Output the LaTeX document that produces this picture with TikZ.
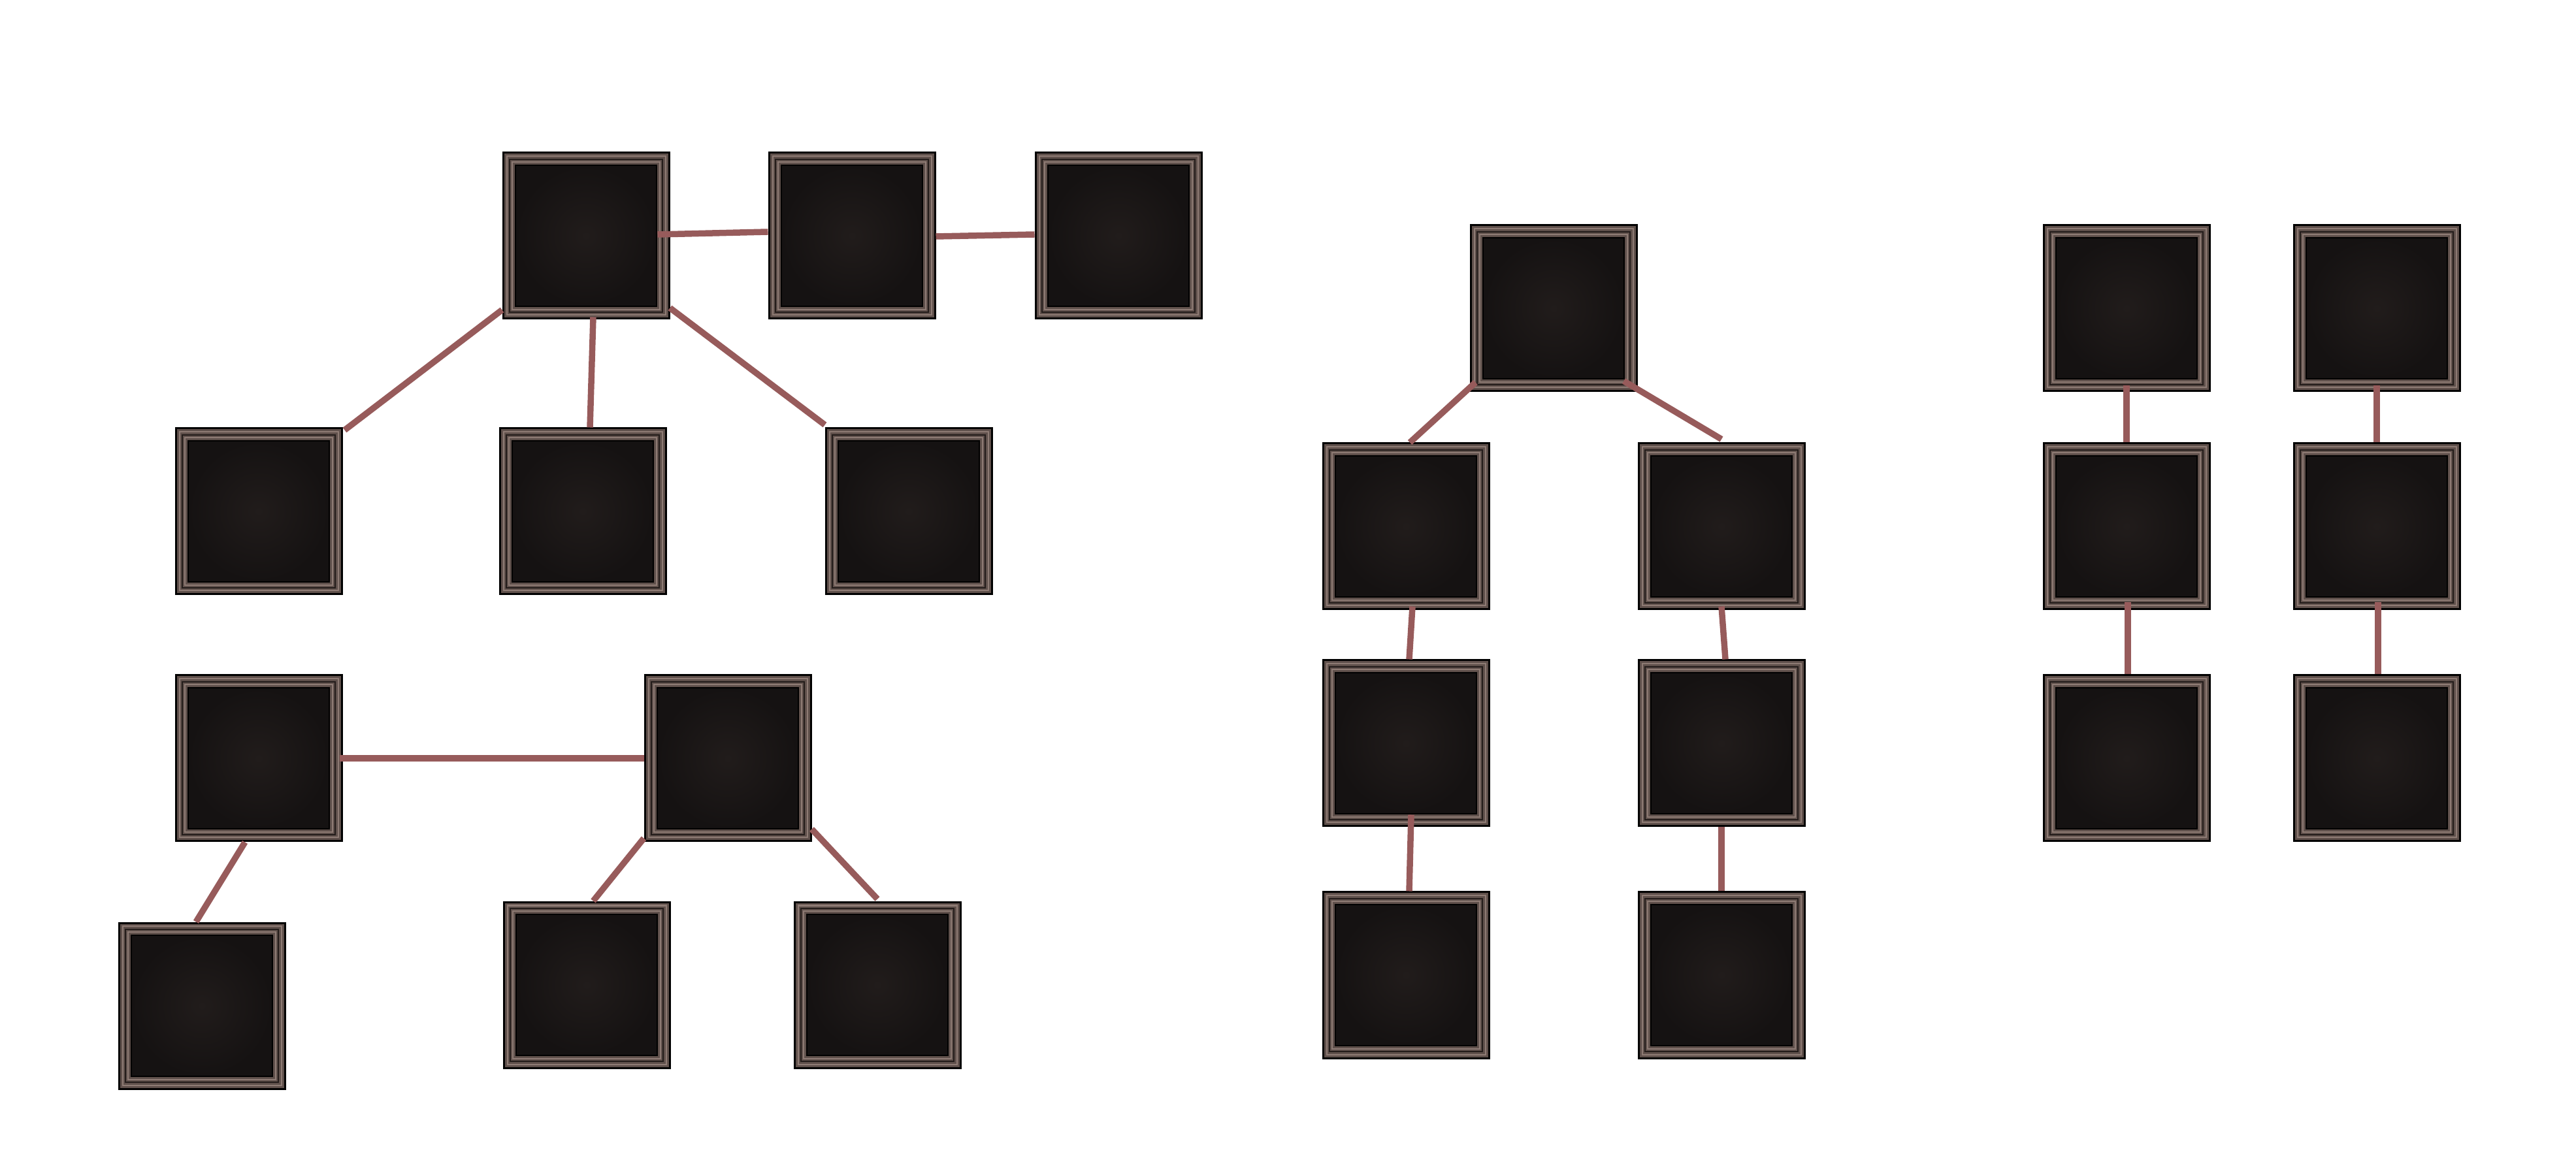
\documentclass[tikz,border=0pt]{standalone}
\usepackage{tikz}
\definecolor{framebrown}{HTML}{5F504B}
\definecolor{framelight}{HTML}{8E7B74}
\definecolor{framedark}{HTML}{231C1A}
\definecolor{slatemid}{HTML}{211C1B}
\definecolor{slatedark}{HTML}{151212}
\definecolor{linkred}{HTML}{975B5B}
\tikzset{
  tile/.style={draw=black, line width=0.03cm, fill=framebrown, minimum size=2.54cm, inner sep=0pt,
    path picture={
      \draw[framelight, line width=0.02cm] ([shift={(0.055,0.055)}]path picture bounding box.south west) rectangle ([shift={(-0.055,-0.055)}]path picture bounding box.north east);
      \draw[framedark, line width=0.025cm] ([shift={(0.1,0.1)}]path picture bounding box.south west) rectangle ([shift={(-0.1,-0.1)}]path picture bounding box.north east);
      \draw[framelight, line width=0.02cm] ([shift={(0.14,0.14)}]path picture bounding box.south west) rectangle ([shift={(-0.14,-0.14)}]path picture bounding box.north east);
      \shadedraw[inner color=slatemid, outer color=slatedark, draw=black, line width=0.025cm] ([shift={(0.19,0.19)}]path picture bounding box.south west) rectangle ([shift={(-0.19,-0.19)}]path picture bounding box.north east);
    }},
  link/.style={linkred, line width=0.095cm}
}
\begin{document}
\begin{tikzpicture}
\useasboundingbox (0,0) rectangle (39.43,17.95);
\node[tile] (a) at (8.97,14.34) {};
\node[tile] (b) at (13.04,14.34) {};
\node[tile] (c) at (17.12,14.34) {};
\node[tile] (d) at (3.96,10.12) {};
\node[tile] (e) at (8.92,10.12) {};
\node[tile] (f) at (13.91,10.12) {};
\node[tile] (g) at (3.96,6.34) {};
\node[tile] (h) at (11.14,6.34) {};
\node[tile] (i) at (3.09,2.55) {};
\node[tile] (j) at (8.98,2.87) {};
\node[tile] (k) at (13.43,2.87) {};
\node[tile] (l) at (23.78,13.23) {};
\node[tile] (m) at (21.52,9.89) {};
\node[tile] (n) at (26.35,9.89) {};
\node[tile] (o) at (21.52,6.57) {};
\node[tile] (p) at (26.35,6.57) {};
\node[tile] (q) at (21.52,3.02) {};
\node[tile] (r) at (26.35,3.02) {};
\node[tile] (s) at (32.55,13.23) {};
\node[tile] (t) at (36.38,13.23) {};
\node[tile] (u) at (32.55,9.89) {};
\node[tile] (v) at (36.38,9.89) {};
\node[tile] (w) at (32.55,6.34) {};
\node[tile] (x) at (36.38,6.34) {};
\draw[link] ([shift={(-0.19,0.02)}]a.east) -- ([yshift=0.06cm]b.west);
\draw[link] ([yshift=-0.01cm]b.east) -- ([yshift=0.02cm]c.west);
\draw[link] ([yshift=0.15cm]a.south west) -- ([shift={(0.03,-0.04)}]d.north east);
\draw[link] ([shift={(0.11,0.04)}]a.south) -- ([xshift=0.11cm]e.north);
\draw[link] ([yshift=0.18cm]a.south east) -- ([yshift=0.04cm]f.north west);
\draw[link] ([xshift=-0.05cm]g.east) -- (h.west);
\draw[link] ([xshift=-0.21cm]g.south) -- ([xshift=-0.09cm]i.north);
\draw[link] ([yshift=0.06cm]h.south west) -- ([xshift=0.1cm]j.north);
\draw[link] ([yshift=0.2cm]h.south east) -- ([yshift=0.03cm]k.north);
\draw[link] ([shift={(0.09,0.15)}]l.south west) -- ([xshift=0.06cm]m.north);
\draw[link] ([shift={(-0.21,0.17)}]l.south east) -- ([yshift=0.05cm]n.north);
\draw[link] ([shift={(0.1,0.06)}]m.south) -- ([xshift=0.05cm]o.north);
\draw[link] ([yshift=0.06cm]n.south) -- ([xshift=0.06cm]p.north);
\draw[link] ([shift={(0.08,0.19)}]o.south) -- ([xshift=0.05cm]q.north);
\draw[link] (p.south) -- (r.north);
\draw[link] ([yshift=0.1cm]s.south) -- (u.north);
\draw[link] ([shift={(0.02,0.12)}]u.south) -- ([xshift=0.02cm]w.north);
\draw[link] ([yshift=0.1cm]t.south) -- (v.north);
\draw[link] ([shift={(0.02,0.12)}]v.south) -- ([xshift=0.02cm]x.north);
\end{tikzpicture}
\end{document}
